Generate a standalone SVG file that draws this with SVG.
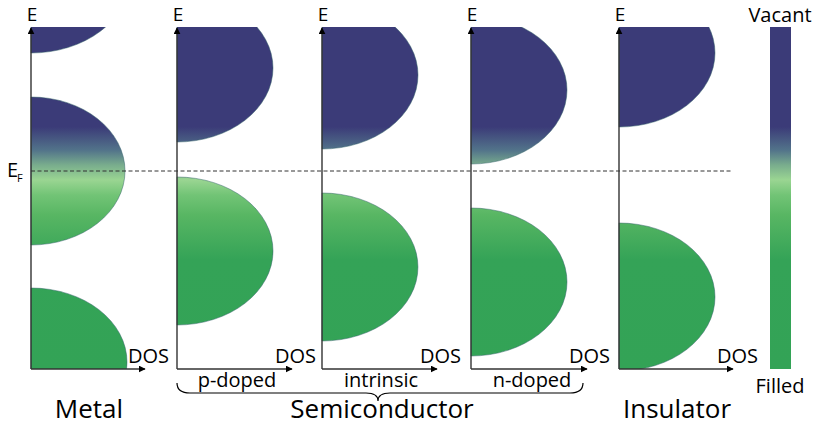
<svg xmlns="http://www.w3.org/2000/svg" width="815" height="426" viewBox="0 0 815 426">
  <style>
    text { font-family: "Open Sans", "Noto Sans", "Liberation Sans", sans-serif; fill: #000; }
    .e { font-size: 19px; text-anchor: middle; }
    .dos { font-size: 20px; }
    .sub { font-size: 20px; text-anchor: middle; }
    .big { font-size: 26px; text-anchor: middle; }
    .band { fill: url(#eg); stroke: #2f5f66; stroke-width: 0.8; stroke-opacity: 0.6; }
    .axis { stroke: #333; stroke-width: 1.4; fill: none; }
  </style>
  <defs>
    <linearGradient id="eg" gradientUnits="userSpaceOnUse" x1="0" y1="27" x2="0" y2="369">
      <stop offset="0" stop-color="#3b3b78"/>
      <stop offset="0.292" stop-color="#3b3b78"/>
      <stop offset="0.36" stop-color="#52738a"/>
      <stop offset="0.404" stop-color="#79ad8d"/>
      <stop offset="0.447" stop-color="#9ad592"/>
      <stop offset="0.491" stop-color="#72c476"/>
      <stop offset="0.55" stop-color="#58b663"/>
      <stop offset="0.681" stop-color="#34a357"/>
      <stop offset="1" stop-color="#33a356"/>
    </linearGradient>
    <clipPath id="plot">
      <rect x="0" y="27" width="815" height="342"/>
    </clipPath>
    <marker id="arr" viewBox="0 0 10 10" refX="9" refY="5" markerWidth="7" markerHeight="7" markerUnits="userSpaceOnUse" orient="auto">
      <path d="M0,0 L10,5 L0,10 Z" fill="#000"/>
    </marker>
  </defs>

  <!-- bands -->
  <g id="bands" clip-path="url(#plot)">
    <g id="metal-bands">
      <path class="band" d="M31,-95 A98,74 0 0 1 31,53 Z"/>
      <path class="band" d="M31,97 A94,74 0 0 1 31,245 Z"/>
      <path class="band" d="M31,288 A96,74 0 0 1 31,436 Z"/>
    </g>
    <g id="pdoped-bands">
      <path class="band" d="M177,-6 A96,74 0 0 1 177,142 Z"/>
      <path class="band" d="M177,177 A96,74 0 0 1 177,325 Z"/>
    </g>
    <g id="intrinsic-bands">
      <path class="band" d="M322,1 A96,74 0 0 1 322,149 Z"/>
      <path class="band" d="M322,193 A96,74 0 0 1 322,341 Z"/>
    </g>
    <g id="ndoped-bands">
      <path class="band" d="M471,16 A96,74 0 0 1 471,164 Z"/>
      <path class="band" d="M471,208 A96,74 0 0 1 471,356 Z"/>
    </g>
    <g id="insulator-bands">
      <path class="band" d="M619,-21 A96,74 0 0 1 619,127 Z"/>
      <path class="band" d="M619,223 A96,74 0 0 1 619,371 Z"/>
    </g>
  </g>

  <!-- colour bar -->
  <g id="colorbar">
    <rect x="770" y="27" width="21" height="342" fill="url(#eg)"/>
    <text x="780" y="22" class="dos" text-anchor="middle">Vacant</text>
    <text x="780" y="393" class="sub">Filled</text>
  </g>

  <!-- Fermi level -->
  <g id="fermi">
    <line x1="31" y1="171" x2="731" y2="171" stroke="#333" stroke-width="1" stroke-dasharray="4,2.5"/>
    <text x="7" y="177" style="font-size:20px">E</text>
    <text x="17" y="182" style="font-size:11px">F</text>
  </g>

  <!-- axes -->
  <g id="connectors">
    <polyline class="axis" points="31,369 31,28" marker-end="url(#arr)"/>
    <polyline class="axis" points="31,369 145,369" marker-end="url(#arr)"/>
    <polyline class="axis" points="177,369 177,28" marker-end="url(#arr)"/>
    <polyline class="axis" points="177,369 292,369" marker-end="url(#arr)"/>
    <polyline class="axis" points="322,369 322,28" marker-end="url(#arr)"/>
    <polyline class="axis" points="322,369 437,369" marker-end="url(#arr)"/>
    <polyline class="axis" points="471,369 471,28" marker-end="url(#arr)"/>
    <polyline class="axis" points="471,369 587,369" marker-end="url(#arr)"/>
    <polyline class="axis" points="619,369 619,28" marker-end="url(#arr)"/>
    <polyline class="axis" points="619,369 733,369" marker-end="url(#arr)"/>
    <path d="M177,383 Q177,393 190,393 L366,393 Q378,393 378,401 Q378,393 390,393 L570,393 Q583,393 583,383" fill="none" stroke="#000" stroke-width="1.2"/>
  </g>

  <!-- labels -->
  <g id="labels">
    <text x="32" y="21" class="e">E</text>
    <text x="178" y="21" class="e">E</text>
    <text x="323" y="21" class="e">E</text>
    <text x="472" y="21" class="e">E</text>
    <text x="620" y="21" class="e">E</text>
    <text x="128" y="363" class="dos">DOS</text>
    <text x="275" y="363" class="dos">DOS</text>
    <text x="420" y="363" class="dos">DOS</text>
    <text x="569" y="363" class="dos">DOS</text>
    <text x="717" y="363" class="dos">DOS</text>
    <text x="237" y="387" class="sub">p-doped</text>
    <text x="381" y="387" class="sub">intrinsic</text>
    <text x="532" y="387" class="sub">n-doped</text>
    <text x="89" y="418" class="big">Metal</text>
    <text x="382" y="418" class="big">Semiconductor</text>
    <text x="677" y="418" class="big">Insulator</text>
  </g>
</svg>
